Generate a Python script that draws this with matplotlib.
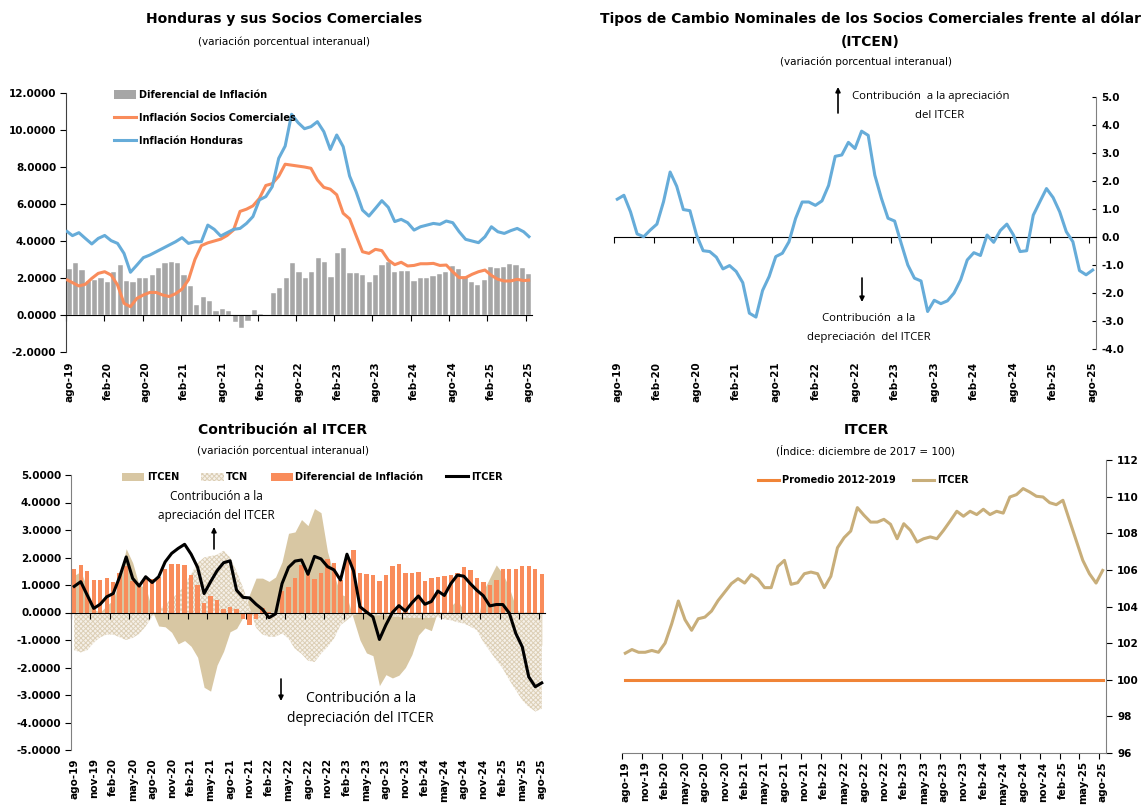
import numpy as np
import matplotlib
matplotlib.use('Agg')
import matplotlib.pyplot as plt
from matplotlib.patches import Patch, FancyArrowPatch
from matplotlib.lines import Line2D
from matplotlib.ticker import FormatStrFormatter, MultipleLocator

# ---------------- data ----------------
meses_abrev = ['ene', 'feb', 'mar', 'abr', 'may', 'jun', 'jul', 'ago', 'sep', 'oct', 'nov', 'dic']
periodos = [f"{meses_abrev[(7 + k) % 12]}-{19 + (7 + k) // 12}" for k in range(73)]

# Panel 1: Honduras y sus Socios Comerciales
inflacion_honduras = [4.56, 4.29, 4.45, 4.14, 3.84, 4.14, 4.30, 4.02, 3.87, 3.33, 2.31, 2.70, 3.10, 3.24,
                      3.42, 3.60, 3.78, 3.96, 4.18, 3.87, 3.96, 3.96, 4.86, 4.63, 4.27, 4.45, 4.63, 4.68,
                      4.95, 5.32, 6.22, 6.40, 6.94, 8.47, 9.13, 10.85, 10.40, 10.07, 10.18, 10.45, 9.91,
                      8.95, 9.73, 9.10, 7.51, 6.67, 5.67, 5.35, 5.76, 6.18, 5.82, 5.05, 5.17, 4.99, 4.59,
                      4.77, 4.86, 4.95, 4.90, 5.08, 4.99, 4.50, 4.09, 4.00, 3.91, 4.23, 4.77, 4.50, 4.41,
                      4.56, 4.68, 4.50, 4.18]
inflacion_socios = [1.93, 1.75, 1.57, 1.66, 1.98, 2.25, 2.34, 2.16, 1.62, 0.63, 0.45, 0.90, 1.08, 1.22,
                    1.22, 1.08, 1.00, 1.15, 1.40, 1.90, 3.00, 3.75, 3.90, 4.00, 4.10, 4.30, 4.60, 5.60,
                    5.72, 5.90, 6.30, 7.00, 7.10, 7.50, 8.15, 8.10, 8.05, 8.00, 7.93, 7.30, 6.90, 6.80,
                    6.50, 5.50, 5.20, 4.30, 3.42, 3.33, 3.55, 3.48, 2.97, 2.72, 2.85, 2.65, 2.68, 2.77,
                    2.77, 2.79, 2.68, 2.70, 2.34, 2.02, 2.02, 2.20, 2.34, 2.43, 2.14, 1.93, 1.84, 1.84,
                    1.93, 1.86, 1.89]
diferencial_p1 = [2.48, 2.79, 2.41, 1.85, 1.90, 1.98, 1.80, 2.30, 2.70, 1.82, 1.77, 2.00, 2.00, 2.14,
                  2.54, 2.83, 2.86, 2.79, 2.16, 1.57, 0.54, 0.97, 0.74, 0.23, 0.32, 0.23, -0.36, -0.68,
                  -0.35, 0.27, 0.05, -0.02, 1.20, 1.48, 1.98, 2.79, 2.34, 1.98, 2.30, 3.09, 2.86, 2.07,
                  3.33, 3.60, 2.29, 2.29, 2.18, 1.80, 2.18, 2.68, 2.86, 2.32, 2.36, 2.36, 1.84, 1.98,
                  2.02, 2.12, 2.21, 2.30, 2.65, 2.47, 2.04, 1.78, 1.62, 1.89, 2.59, 2.54, 2.59, 2.74,
                  2.70, 2.54, 2.23]

# Panel 2 (and 3): ITCEN
itcen = [1.35, 1.49, 0.90, 0.11, 0.01, 0.25, 0.46, 1.26, 2.32, 1.81, 0.98, 0.94, 0.07, -0.49, -0.52,
         -0.72, -1.14, -1.02, -1.23, -1.63, -2.72, -2.86, -1.91, -1.41, -0.70, -0.58, -0.17, 0.66, 1.25,
         1.25, 1.13, 1.29, 1.84, 2.88, 2.93, 3.38, 3.16, 3.78, 3.63, 2.21, 1.38, 0.67, 0.57, -0.23,
         -1.00, -1.47, -1.57, -2.66, -2.26, -2.38, -2.28, -2.00, -1.53, -0.82, -0.56, -0.66, 0.07,
         -0.19, 0.23, 0.46, 0.07, -0.52, -0.49, 0.78, 1.26, 1.73, 1.41, 0.90, 0.19, -0.17, -1.20,
         -1.35, -1.18]

# Panel 3: Contribución al ITCER
tcn = [-1.37, -1.45, -1.37, -1.10, -0.90, -0.80, -0.80, -0.90, -1.00, -0.92, -0.78, -0.50, -0.15, 0.10,
       0.30, 0.50, 0.70, 1.00, 1.40, 1.80, 2.00, 2.05, 2.10, 2.25, 2.00, 1.50, 0.90, 0.20, -0.55,
       -0.80, -0.88, -0.88, -0.76, -0.95, -1.32, -1.50, -1.75, -1.80, -1.50, -1.25, -0.95, -0.46,
       -0.28, -0.10, -0.05, -0.05, -0.10, -0.10, -0.10, -0.15, -0.15, -0.20, -0.20, -0.20, -0.20,
       -0.20, -0.16, -0.25, -0.28, -0.35, -0.40, -0.50, -0.64, -1.07, -1.40, -1.73, -2.04, -2.45,
       -2.82, -3.19, -3.43, -3.60, -3.50]
diferencial_p3 = [1.58, 1.72, 1.52, 1.18, 1.18, 1.24, 1.12, 1.42, 1.68, 1.15, 1.00, 1.21, 1.21, 1.30,
                  1.58, 1.76, 1.78, 1.73, 1.36, 0.99, 0.35, 0.61, 0.45, 0.12, 0.19, 0.14, -0.24, -0.45,
                  -0.24, 0.15, 0.02, -0.01, 0.78, 0.93, 1.27, 1.72, 1.45, 1.21, 1.42, 1.96, 1.80, 1.20,
                  2.10, 2.27, 1.42, 1.39, 1.36, 1.14, 1.36, 1.68, 1.78, 1.45, 1.45, 1.49, 1.14, 1.24,
                  1.30, 1.32, 1.36, 1.42, 1.64, 1.54, 1.27, 1.10, 0.99, 1.18, 1.60, 1.60, 1.60, 1.70,
                  1.70, 1.60, 1.39]
itcer_var = [0.95, 1.12, 0.63, 0.15, 0.30, 0.57, 0.69, 1.30, 2.02, 1.24, 0.96, 1.30, 1.09, 1.30, 1.84,
             2.15, 2.33, 2.48, 2.12, 1.64, 0.69, 1.12, 1.52, 1.81, 1.88, 0.81, 0.55, 0.53, 0.30, 0.11,
             -0.19, -0.05, 1.05, 1.64, 1.87, 1.91, 1.39, 2.04, 1.95, 1.67, 1.55, 1.18, 2.12, 1.52, 0.21,
             0.02, -0.16, -0.98, -0.45, 0.00, 0.25, 0.05, 0.35, 0.60, 0.30, 0.40, 0.78, 0.62, 1.05,
             1.36, 1.32, 1.05, 0.81, 0.61, 0.24, 0.29, 0.29, -0.02, -0.76, -1.25, -2.34, -2.70, -2.56]

# Panel 4: ITCER índice
itcer_indice = [101.45, 101.65, 101.50, 101.50, 101.60, 101.50, 102.00, 103.06, 104.30, 103.28, 102.70,
                103.33, 103.42, 103.75, 104.33, 104.79, 105.25, 105.52, 105.28, 105.74, 105.50, 105.03,
                105.03, 106.19, 106.52, 105.21, 105.30, 105.79, 105.88, 105.79, 105.03, 105.65, 107.21,
                107.76, 108.12, 109.40, 108.98, 108.61, 108.61, 108.76, 108.49, 107.70, 108.52, 108.16,
                107.52, 107.70, 107.80, 107.70, 108.16, 108.67, 109.20, 108.93, 109.20, 109.02, 109.31,
                109.02, 109.20, 109.10, 109.98, 110.11, 110.44, 110.25, 110.02, 109.98, 109.67, 109.56,
                109.80, 108.70, 107.61, 106.52, 105.79, 105.28, 105.97]
promedio_2012_2019 = [100.0] * 73

# ---------------- style ----------------
C_GRAY = '#A6A6A6'
C_ORANGE = '#F98C5B'
C_BLUE = '#66ACD9'
C_TAN = '#D8C7A3'
C_DOT = '#DCCFB6'
C_DOT_BG = '#F6F1E9'
C_ITCER4 = '#C8AE7A'
C_PROM = '#F08437'
TICK_FS = 7.5
plt.rcParams['font.family'] = ['DejaVu Sans']
plt.rcParams['hatch.linewidth'] = 0.7

W, H = 1142, 805
fig = plt.figure(figsize=(W / 100, H / 100), dpi=100)
n = len(periodos)
x = np.arange(n)


def fx(px):
    return px / W


def fy(py):
    return 1 - py / H


def axes_px(x0, y0, x1, y1):
    return fig.add_axes([x0 / W, 1 - y1 / H, (x1 - x0) / W, (y1 - y0) / H])


def category_axis(ax, step, pad):
    ax.set_xlim(-0.5, n - 0.5)
    idx = np.arange(0, n, step)
    ax.set_xticks(idx - 0.5)
    ax.tick_params(axis='x', length=4, width=0.8, direction='out', labelbottom=False)
    sec = ax.secondary_xaxis(0)
    sec.set_xticks(idx)
    sec.set_xticklabels([periodos[i] for i in idx], rotation=90, fontsize=TICK_FS, fontweight='bold')
    sec.tick_params(length=0, pad=pad)
    sec.spines['bottom'].set_visible(False)
    return sec


def style_y(ax, fmt):
    ax.yaxis.set_major_formatter(FormatStrFormatter(fmt))
    for lab in ax.get_yticklabels():
        lab.set_fontweight('bold')
        lab.set_fontsize(TICK_FS)


arrow = dict(arrowstyle='-|>', color='black', lw=1.2, mutation_scale=7, shrinkA=0, shrinkB=0)


def vert_arrow(xp, y_from, y_to):
    fig.add_artist(FancyArrowPatch((fx(xp), fy(y_from)), (fx(xp), fy(y_to)),
                                   transform=fig.transFigure, **arrow))


ANN = ['Open Sans', 'DejaVu Sans']

# ---------------- Panel 1 ----------------
ax1 = axes_px(66, 93, 532, 352)
ax1.bar(x, diferencial_p1, width=0.82, color=C_GRAY, edgecolor='white', linewidth=0.3, zorder=2)
xe = np.linspace(-0.5, n - 0.8, n)
ax1.plot(xe, inflacion_socios, color=C_ORANGE, lw=2.2, zorder=3, solid_capstyle='butt')
ax1.plot(xe, inflacion_honduras, color=C_BLUE, lw=2.2, zorder=3, solid_capstyle='butt')
ax1.set_ylim(-2, 12)
ax1.yaxis.set_major_locator(MultipleLocator(2))
ax1.tick_params(axis='y', length=4, width=0.8, labelsize=TICK_FS, pad=3)
style_y(ax1, '%.4f')
for s in ['top', 'right']:
    ax1.spines[s].set_visible(False)
ax1.spines['bottom'].set_position(('data', 0))
ax1.spines['bottom'].set_color('black')
ax1.spines['left'].set_color('#404040')
category_axis(ax1, 6, 7)
h1 = [Patch(facecolor=C_GRAY, edgecolor='none'),
      Line2D([], [], color=C_ORANGE, lw=2.2),
      Line2D([], [], color=C_BLUE, lw=2.2)]
ax1.legend(h1, ['Diferencial de Inflación', 'Inflación Socios Comerciales', 'Inflación Honduras'],
           loc='upper left', bbox_to_anchor=(fx(110), fy(86)), bbox_transform=fig.transFigure,
           frameon=False, prop={'weight': 'bold', 'size': 7}, labelspacing=1.35,
           handlelength=2.3, handletextpad=0.25, handleheight=0.9, borderaxespad=0)

fig.text(fx(284), fy(19), 'Honduras y sus Socios Comerciales', ha='center', va='center',
         fontsize=10, fontweight='bold')
fig.text(fx(284), fy(42), '(variación porcentual interanual)', ha='center', va='center', fontsize=7.5)

# ---------------- Panel 2 ----------------
ax2 = axes_px(614, 97, 1096, 349)
ax2.plot(x, itcen, color=C_BLUE, lw=2.2, zorder=3)
ax2.set_ylim(-4, 5)
ax2.yaxis.set_major_locator(MultipleLocator(1))
ax2.yaxis.tick_right()
ax2.tick_params(axis='y', length=3, width=0.8, labelsize=TICK_FS, pad=4, direction='in')
style_y(ax2, '%.1f')
for s in ['top', 'left']:
    ax2.spines[s].set_visible(False)
ax2.spines['right'].set_color('#808080')
ax2.spines['bottom'].set_position(('data', 0))
ax2.spines['bottom'].set_color('black')
category_axis(ax2, 6, 9)

fig.text(fx(870), fy(19), 'Tipos de Cambio Nominales de los Socios Comerciales frente al dólar',
         ha='center', va='center', fontsize=10, fontweight='bold')
fig.text(fx(870), fy(42), '(ITCEN)', ha='center', va='center', fontsize=10, fontweight='bold')
fig.text(fx(866), fy(62), '(variación porcentual interanual)', ha='center', va='center', fontsize=7.5)

fig.text(fx(852), fy(97), 'Contribución  a la apreciación', ha='left', va='center', fontsize=8.2,
         family=ANN)
fig.text(fx(940), fy(115), 'del ITCER', ha='center', va='center', fontsize=8.2, family=ANN)
fig.text(fx(869), fy(318), 'Contribución  a la', ha='center', va='center', fontsize=8.2, family=ANN)
fig.text(fx(869), fy(337), 'depreciación  del ITCER', ha='center', va='center', fontsize=8.2, family=ANN)
vert_arrow(838, 113, 87)
vert_arrow(862, 278, 302)

# ---------------- Panel 3 ----------------
ax3 = axes_px(71, 475, 545, 750)
ax3.fill_between(x, 0, itcen, color=C_TAN, linewidth=0, zorder=1)
ax3.fill_between(x, 0, tcn, facecolor=C_DOT_BG, edgecolor=C_DOT, hatch='xxxxxxx', linewidth=0,
                 zorder=1.5)
ax3.bar(x, diferencial_p3, width=0.68, color=C_ORANGE, linewidth=0, zorder=2)
ax3.plot(x, itcer_var, color='black', lw=2.2, zorder=3)
ax3.set_ylim(-5, 5)
ax3.yaxis.set_major_locator(MultipleLocator(1))
ax3.tick_params(axis='y', length=4, width=0.8, labelsize=TICK_FS, pad=3)
style_y(ax3, '%.4f')
for s in ['top', 'right']:
    ax3.spines[s].set_visible(False)
ax3.spines['bottom'].set_position(('data', 0))
ax3.spines['bottom'].set_color('black')
ax3.spines['bottom'].set_zorder(4)
ax3.spines['left'].set_color('#808080')
category_axis(ax3, 3, 6)
h3 = [Patch(facecolor=C_TAN, edgecolor='none'),
      Patch(facecolor=C_DOT_BG, edgecolor=C_DOT, hatch='xxxxxxx', linewidth=0),
      Patch(facecolor=C_ORANGE, edgecolor='none'),
      Line2D([], [], color='black', lw=2.2)]
ax3.legend(h3, ['ITCEN', 'TCN', 'Diferencial de Inflación', 'ITCER'], ncol=4,
           loc='center left', bbox_to_anchor=(fx(118), fy(477)), bbox_transform=fig.transFigure,
           frameon=False, prop={'weight': 'bold', 'size': 7}, handlelength=2.3, handletextpad=0.25,
           columnspacing=2.3, borderaxespad=0, handleheight=0.9)

fig.text(fx(283), fy(430), 'Contribución al ITCER', ha='center', va='center', fontsize=10,
         fontweight='bold')
fig.text(fx(283), fy(451), '(variación porcentual interanual)', ha='center', va='center', fontsize=7.5)
fig.text(fx(216), fy(496), 'Contribución a la', ha='center', va='center', fontsize=8.5, family=ANN)
fig.text(fx(216), fy(516), 'apreciación del ITCER', ha='center', va='center', fontsize=8.5, family=ANN)
fig.text(fx(361), fy(698), 'Contribución a la', ha='center', va='center', fontsize=10, family=ANN)
fig.text(fx(360), fy(718), 'depreciación del ITCER', ha='center', va='center', fontsize=10, family=ANN)
vert_arrow(214, 549, 527)
vert_arrow(281, 679, 701)

# ---------------- Panel 4 ----------------
ax4 = axes_px(622, 460, 1106, 753)
ax4.plot(x, promedio_2012_2019, color=C_PROM, lw=2.2, zorder=2)
ax4.plot(x, itcer_indice, color=C_ITCER4, lw=2.2, zorder=3)
ax4.set_ylim(96, 112)
ax4.yaxis.set_major_locator(MultipleLocator(2))
ax4.yaxis.tick_right()
ax4.tick_params(axis='y', length=4, width=0.8, labelsize=TICK_FS, pad=4)
style_y(ax4, '%d')
for s in ['top', 'left']:
    ax4.spines[s].set_visible(False)
ax4.spines['right'].set_color('#808080')
ax4.spines['bottom'].set_color('#808080')
category_axis(ax4, 3, 6)
h4 = [Line2D([], [], color=C_PROM, lw=2.2), Line2D([], [], color=C_ITCER4, lw=2.2)]
ax4.legend(h4, ['Promedio 2012-2019', 'ITCER'], ncol=2, loc='center left',
           bbox_to_anchor=(fx(754), fy(480)), bbox_transform=fig.transFigure, frameon=False,
           prop={'weight': 'bold', 'size': 7}, handlelength=2.2, handletextpad=0.25,
           columnspacing=1.8, borderaxespad=0)
fig.text(fx(866), fy(430), 'ITCER', ha='center', va='center', fontsize=10, fontweight='bold')
fig.text(fx(866), fy(451), '(Índice: diciembre de 2017 = 100)', ha='center', va='center', fontsize=7.5)

fig.savefig('out.png', dpi=100)
